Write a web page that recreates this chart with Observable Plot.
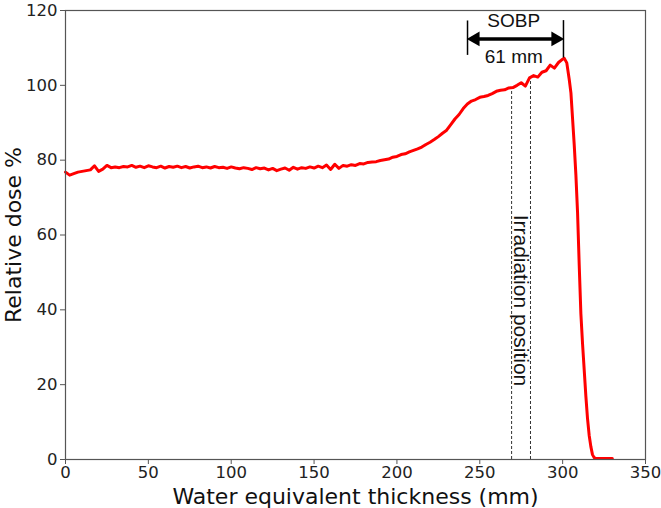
<!DOCTYPE html>
<html>
<head>
<meta charset="utf-8">
<script src="https://cdn.jsdelivr.net/npm/d3@7"></script>
<script src="https://cdn.jsdelivr.net/npm/@observablehq/plot@0.6"></script>
<style>
  html, body { margin: 0; padding: 0; background: #fff; }
  #chart svg { display: block; }
  #chart [aria-label="x-axis label"] text, #chart [aria-label="y-axis label"] text { font-size: 22px; fill: #111; }
</style>
</head>
<body>
<div id="chart"></div>
<script>
// Depth (mm) of water-equivalent thickness
const depth = [
  0, 2.5, 5, 7.5, 10, 12.5, 15, 17.5, 20, 22.5, 25, 27.5, 30, 32.5, 35, 37.5, 40, 42.5, 45, 47.5,
  50, 52.5, 55, 57.5, 60, 62.5, 65, 67.5, 70, 72.5, 75, 77.5, 80, 82.5, 85, 87.5, 90, 92.5, 95, 97.5,
  100, 102.5, 105, 107.5, 110, 112.5, 115, 117.5, 120, 122.5, 125, 127.5, 130, 132.5, 135, 137.5, 140, 142.5, 145, 147.5,
  150, 152.5, 155, 157.5, 160, 162.5, 165, 167.5, 170, 172.5, 175, 177.5, 180, 182.5, 185, 187.5, 190, 192.5, 195, 197.5,
  200, 202.5, 205, 207.5, 210, 212.5, 215, 217.5, 220, 222.5, 225, 227.5, 230, 232.5, 235, 237.5, 240, 242.5, 245, 247.5,
  250, 252.5, 255, 257.5, 260, 262.5, 265, 267.5, 270, 272.5, 275, 277.5, 280, 282.5, 285, 287.5, 290, 292.5, 295, 297.5,
  300, 301, 302.5, 304, 305, 306, 307, 308, 309, 310, 311, 312, 313, 314, 315, 316, 317, 318, 319, 320, 325, 330
];
// Relative dose (%)
const dose = [
  76.8, 76.0, 76.4, 76.8, 77.0, 77.2, 77.4, 78.5, 77.0, 77.6, 78.6, 78.0, 78.2, 78.0, 78.3, 78.2, 78.6, 78.1, 78.4, 78.0,
  78.5, 78.2, 78.0, 78.4, 77.9, 78.3, 78.1, 78.4, 78.0, 78.3, 77.9, 78.2, 78.4, 78.0, 78.2, 77.9, 78.3, 78.0, 78.1, 77.8,
  78.2, 77.9, 77.7, 78.0, 77.8, 77.5, 78.0, 77.7, 77.9, 77.4, 77.8, 77.2, 77.6, 77.9, 77.3, 78.1, 77.6, 78.0, 77.8, 78.2,
  77.9, 78.4, 78.0, 78.7, 77.5, 78.9, 77.8, 78.6, 78.4, 78.8, 78.6, 79.1, 79.0, 79.4, 79.5, 79.6, 79.9, 80.1, 80.3, 80.8,
  81.0, 81.5, 81.7, 82.2, 82.6, 83.0, 83.5, 84.2, 84.8, 85.5, 86.3, 87.2, 88.0, 89.5, 91.0, 92.2, 93.8, 95.0, 95.8, 96.2,
  96.8, 97.0, 97.3, 97.8, 98.4, 98.7, 98.8, 99.3, 99.4, 100.0, 100.7, 99.8, 102.0, 102.6, 102.2, 103.5, 103.9, 105.4, 104.6, 106.1,
  107.0, 107.2, 106.0, 101.5, 98, 91, 84, 76, 66, 52, 39, 31, 24, 17, 11, 6.5, 3.5, 1.3, 0.5, 0.3, 0.3, 0.3
];
const xTicks = [0, 50, 100, 150, 200, 250, 300, 350];
const yTicks = [0, 20, 40, 60, 80, 100, 120];

// Annotations (data space)
const sobpEdges = [242.6, 300.5];
const sobpBarTop = [117.2, 117.3];
const sobpBarBottom = [108, 107.3];
const sobpArrowY = 112.4;
const sobpArrowHeads = [{x: 247.3, rot: -90}, {x: 295.8, rot: 90}];
const sobpLabels = [{x: 270.5, y: 117.2, text: "SOBP"}, {x: 270.5, y: 107.6, text: "61 mm"}];
const irradiationLines = [{x: 269.2, top: 99.3}, {x: 280.6, top: 101.8}];
const irradiationLabel = [{x: 275, y: 42.5, text: "Irradiation position"}];

const data = depth.map((d, i) => ({depth: d, dose: dose[i]}));

const plot = Plot.plot({
  width: 661,
  height: 508,
  marginLeft: 65,
  marginRight: 16,
  marginTop: 10,
  marginBottom: 49,
  style: {fontFamily: "'DejaVu Sans', sans-serif", fontSize: "16.5px", color: "#222", background: "#fff"},
  x: {domain: [0, 350]},
  y: {domain: [0, 120]},
  marks: [
    Plot.axisX({ticks: xTicks, tickSize: 5, tickPadding: 2, stroke: "#555", label: "Water equivalent thickness (mm)", labelAnchor: "center", labelArrow: "none", labelOffset: 44, fontSize: 16.5}),
    Plot.axisY({ticks: yTicks, tickSize: 5, tickPadding: 3, stroke: "#555", label: "Relative dose %", labelAnchor: "center", labelArrow: "none", labelOffset: 60, fontSize: 16.5}),
    Plot.ruleX(irradiationLines, {x: "x", y1: 0, y2: "top", stroke: "#333", strokeWidth: 1, strokeDasharray: "3,2"}),
    Plot.text(irradiationLabel, {x: "x", y: "y", text: "text", rotate: 90, fontSize: 21, fontFamily: "'Liberation Sans', Arial, sans-serif", fill: "#111"}),
    Plot.line(data, {x: "depth", y: "dose", stroke: "#ff0000", strokeWidth: 3, curve: "linear"}),
    Plot.ruleX(sobpEdges.map((x, i) => ({x, y1: sobpBarBottom[i], y2: sobpBarTop[i]})), {x: "x", y1: "y1", y2: "y2", stroke: "#000", strokeWidth: 1.5}),
    Plot.link([{x1: sobpEdges[0] + 3, x2: sobpEdges[1] - 3}], {x1: "x1", x2: "x2", y1: () => sobpArrowY, y2: () => sobpArrowY, stroke: "#000", strokeWidth: 3.5}),
    Plot.dot(sobpArrowHeads, {x: "x", y: () => sobpArrowY, symbol: "triangle", r: 5.5, fill: "#000", stroke: "none", rotate: "rot"}),
    Plot.text(sobpLabels, {x: "x", y: "y", text: "text", fontSize: 19, fontFamily: "'Liberation Sans', Arial, sans-serif", fill: "#111"}),
    Plot.frame({stroke: "#555", strokeWidth: 1.2})
  ]
});
document.getElementById("chart").appendChild(plot);
</script>
</body>
</html>
